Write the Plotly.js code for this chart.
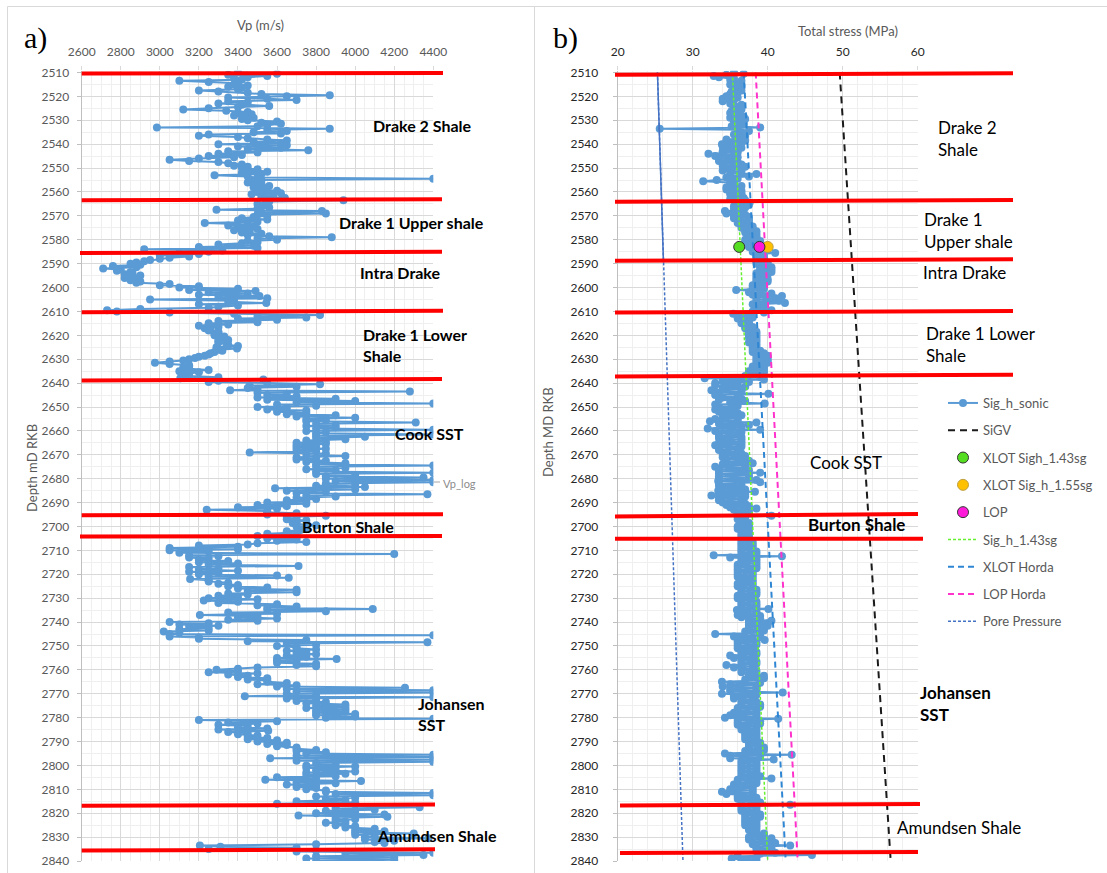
<!DOCTYPE html>
<html>
<head>
<meta charset="utf-8">
<script src="https://cdn.plot.ly/plotly-3.0.1.min.js"></script>
<style>
html,body{margin:0;padding:0;background:#fff;}
#chart{width:1107px;height:873px;}
</style>
</head>
<body>
<div id="chart"></div>
<script>
// ---------------- DATA ----------------
// Log sampling: top depth and step (m MD RKB)
const logTopDepth = 2510;
const logStep = 0.5;

// Vp log (m/s), one value per 0.5 m from 2510 to 2840
const vpLog = [
/*2510*/ 3400,3600,3350,3550,3450,3380,3420,3100,3250,3400,3380,3450,3350,3420,3400,3200,3300,3450,3520,3870,
/*2520*/ 3650,3350,3550,3700,3350,3450,3300,3420,3560,3400,3250,3120,3340,3450,3400,3470,3380,3440,3480,3420,
/*2530*/ 3450,3600,3520,3620,3550,3500,2985,3870,3550,3650,3480,3620,3250,3200,3400,3450,3550,3650,3480,3620,
/*2540*/ 3300,3650,3400,3620,3450,3760,3350,3500,3300,3420,3250,3380,3200,3050,3150,3300,3350,3420,3380,3450,
/*2550*/ 3420,3500,3450,3550,3420,3520,3280,3450,3500,4400,3520,3480,3450,3520,3500,3560,3480,3540,3520,3600,
/*2560*/ 3500,3620,3470,3580,3520,3640,3540,3940,3560,3540,3500,3550,3520,3560,3500,3290,3830,3520,3850,3500,
/*2570*/ 3550,3480,3420,3550,3400,3500,3230,3450,3350,3480,3400,3500,3380,3460,3420,3520,3450,3560,3880,3500,
/*2580*/ 3600,3450,3500,3420,3300,3480,3200,3500,2920,3320,3250,3100,3200,3000,3150,3050,3000,2950,2920,2880,
/*2590*/ 2850,2900,2760,2880,2710,2800,2780,2850,2860,2820,2900,2850,2820,2880,2850,2900,2880,3050,3000,3200,
/*2600*/ 3100,3400,3150,3490,3250,3450,3200,3510,3300,3550,2950,3380,3350,3545,3200,3400,3300,3250,2900,2730,
/*2610*/ 2780,3050,3380,3820,3500,3750,3400,3600,3300,3500,3250,3350,3200,3300,3230,3260,3250,3300,3300,3280,
/*2620*/ 3280,3330,3320,3300,3350,3300,3300,3340,3350,3400,3290,3395,3300,3320,3280,3260,3250,3230,3200,3180,
/*2630*/ 3150,3120,3050,2975,3050,3150,3150,3120,3150,3250,3100,3200,3150,3120,3150,3300,3105,3530,3300,3250,
/*2640*/ 3550,3820,3460,3700,3450,3500,3360,4280,3500,3650,3550,3700,3500,3900,3550,4000,3700,4400,3600,3800,
/*2650*/ 3500,3650,3550,3750,3600,3750,3650,3900,3700,4000,3750,3850,3750,4310,3800,3900,3750,3900,3800,4400,
/*2660*/ 3750,3850,3800,4400,3800,4050,3800,3950,3750,3850,3700,3850,3700,3800,3700,3850,3700,3800,3460,3850,
/*2670*/ 3750,3950,3700,3800,3700,3850,3750,3950,3800,4400,3800,3950,3750,3900,3800,4400,3800,4000,3850,4350,
/*2680*/ 3850,4400,3900,4400,3850,4000,3800,4050,3590,4000,3650,3850,3700,4370,3750,3900,3700,3800,3650,3750,
/*2690*/ 3550,3750,3500,3650,3400,3600,3240,3550,3550,3700,3550,3850,3650,3700,3650,3750,3700,3680,3700,3800,
/*2700*/ 3700,3750,3750,3720,3650,3700,3550,3700,3500,3700,3550,3700,3600,3750,3500,3450,3200,3400,3050,3400,
/*2710*/ 3050,3250,3100,4200,3150,3300,3150,3250,3200,3350,3200,3400,3250,3710,3150,3300,3200,3400,3150,3300,
/*2720*/ 3200,3600,3250,3660,3155,3250,3250,3350,3300,3400,3350,3550,3400,3700,3450,3700,3350,3450,3300,3400,
/*2730*/ 3250,3500,3225,3400,3300,3600,3500,3700,3550,4090,3550,3850,3350,3600,3205,3500,3400,3600,3350,3500,
/*2740*/ 3050,3250,3100,3300,3150,3250,3100,3250,3020,3100,3050,4400,3050,3200,3200,3750,3450,4370,3650,3800,
/*2750*/ 3600,3700,3700,3800,3650,3750,3700,3800,3650,3750,3600,3905,3600,3700,3600,3800,3700,3800,3500,3400,
/*2760*/ 3290,3400,3250,3500,3350,3450,3400,3550,3450,3550,3550,3650,3500,3700,3600,4255,3650,4400,3700,4400,
/*2770*/ 3650,3800,3435,4400,3650,3800,3700,3850,3750,3950,3800,3950,3750,3950,3800,3950,3800,4000,3800,4000,
/*2780*/ 3850,4400,3200,3600,3350,3500,3300,3450,3400,3550,3300,3555,3350,3450,3400,3500,3450,3550,3450,3600,
/*2790*/ 3500,3650,3550,3650,3600,3700,3700,3800,3700,3850,3750,4400,3700,4400,3565,4400,3700,4400,3800,3900,
/*2800*/ 3750,4000,3750,3900,3800,4000,3750,3950,3750,3900,3600,3800,3540,4030,3700,3900,3650,3800,3700,3800,
/*2810*/ 3750,3850,3850,4400,3900,4400,3800,4000,3850,3950,3700,4000,3600,4000,3900,4330,3900,4100,3850,4000,
/*2820*/ 3800,4150,3710,4165,3900,4000,3900,3950,3850,3950,3900,4000,3950,4100,4000,4150,4000,4300,4000,4100,
/*2830*/ 4050,4375,4050,4200,4100,4150,3800,3205,3310,3700,3250,3800,3700,4400,3950,4350,3800,4200,3750,4200,
/*2840*/ 3800
];

// Sig_h_sonic (MPa), one value per 0.5 m from 2510 to 2840
const sigHSonic = [
/*2510*/ 35.5,36.8,34.5,32.8,33.5,35.5,35.0,36.5,35.5,36.2,35.0,36.5,35.5,36.0,35.8,36.5,35.2,36.0,35.0,35.8,
/*2520*/ 34.5,36.0,34.0,35.5,34.0,35.2,35.0,36.5,35.5,36.2,35.5,36.5,35.2,36.0,35.0,36.0,35.5,36.8,35.0,37.0,
/*2530*/ 35.5,36.5,35.5,36.8,36.0,35.2,39.0,25.6,36.0,37.5,36.5,37.0,35.5,37.0,36.0,36.8,34.5,37.0,34.5,36.5,
/*2540*/ 33.9,36.0,34.0,36.5,34.5,36.0,34.0,36.0,32.1,35.5,33.0,36.0,33.5,35.5,33.5,36.0,34.0,36.5,34.0,37.0,
/*2550*/ 34.5,36.5,34.0,36.5,35.0,38.5,35.0,37.5,34.5,36.0,33.2,31.4,35.0,35.5,35.0,36.5,34.5,36.0,34.5,36.5,
/*2560*/ 35.0,36.5,35.0,36.5,35.5,36.8,35.0,37.0,36.0,37.6,36.0,37.5,35.5,37.0,35.5,36.5,34.3,36.5,34.5,37.0,
/*2570*/ 35.5,37.5,35.5,37.5,36.0,37.5,36.0,37.5,36.5,38.0,36.5,38.0,37.0,38.5,37.0,38.5,37.5,38.5,37.5,38.5,
/*2580*/ 37.0,39.0,37.0,39.0,37.5,39.5,37.5,39.5,38.0,39.5,38.0,41.0,38.5,39.5,38.5,39.5,38.5,39.5,38.5,40.0,
/*2590*/ 38.5,40.0,39.0,40.5,39.0,40.5,39.0,40.5,38.5,40.0,38.5,39.5,38.5,40.0,38.5,40.0,38.5,39.5,38.0,39.5,
/*2600*/ 38.0,39.5,35.8,39.0,37.5,40.5,38.0,41.9,38.5,41.0,38.5,41.5,38.5,42.3,38.0,39.5,38.5,39.5,38.5,40.5,
/*2610*/ 38.0,39.5,35.4,37.5,36.0,38.0,36.0,37.5,36.5,37.5,36.5,37.5,37.0,38.0,37.0,38.0,37.5,38.5,37.5,38.5,
/*2620*/ 37.5,38.5,37.5,38.5,37.8,38.5,37.5,38.5,38.0,38.5,38.0,38.5,38.0,39.0,38.0,39.5,38.5,40.0,38.5,40.0,
/*2630*/ 38.5,40.0,38.5,40.0,38.5,39.5,38.0,39.5,38.0,39.5,37.5,39.5,37.5,39.0,37.0,39.0,31.6,39.5,34.0,37.5,
/*2640*/ 33.0,36.0,33.0,37.0,34.0,36.5,32.5,36.5,33.5,40.1,33.0,36.0,34.0,36.5,33.5,37.0,35.0,39.6,33.0,36.0,
/*2650*/ 33.5,35.5,33.0,35.5,33.5,36.0,34.0,36.5,34.0,36.0,33.0,36.0,32.3,38.5,33.5,37.5,34.0,36.5,32.0,39.0,
/*2660*/ 33.0,36.5,33.5,36.0,33.5,36.5,33.5,36.5,34.0,36.5,33.5,36.5,33.0,36.5,33.5,36.0,33.5,36.0,34.0,36.5,
/*2670*/ 34.0,37.0,34.0,37.0,34.5,37.5,34.5,38.0,34.0,37.0,33.0,37.0,33.5,37.5,33.5,39.0,33.5,37.5,33.5,37.5,
/*2680*/ 33.5,38.5,33.4,39.0,33.5,36.5,33.5,36.5,34.0,37.0,33.4,38.3,33.5,37.0,32.5,37.0,33.5,36.5,33.5,36.5,
/*2690*/ 34.0,37.0,34.5,37.5,35.0,38.5,35.5,37.5,36.0,37.5,36.0,40.5,36.0,37.0,36.0,37.0,36.5,37.5,36.5,37.5,
/*2700*/ 36.0,37.5,36.0,37.5,36.5,37.5,36.5,37.5,36.5,37.5,36.5,37.5,36.5,38.0,36.5,38.0,36.5,38.0,36.5,38.0,
/*2710*/ 36.5,38.5,36.5,38.5,32.8,41.9,35.0,38.5,36.5,38.5,36.5,38.5,36.0,38.5,36.0,38.5,36.0,38.0,36.0,38.0,
/*2720*/ 36.0,38.0,36.0,38.0,36.5,38.0,36.5,38.0,36.0,38.0,36.0,38.0,36.5,38.5,36.5,38.5,36.5,38.5,36.0,38.0,
/*2730*/ 36.0,38.0,36.5,38.5,36.5,38.5,36.5,38.5,36.5,40.1,35.9,38.5,36.5,38.5,36.0,39.0,36.5,39.0,37.5,40.5,
/*2740*/ 37.5,40.0,37.5,40.0,37.5,39.5,37.5,39.5,37.0,39.0,33.0,39.0,35.5,38.0,36.0,39.6,36.0,38.5,36.0,38.5,
/*2750*/ 36.0,38.0,36.0,38.0,36.5,38.5,36.5,38.5,35.0,38.0,35.5,38.0,36.5,38.5,36.5,38.5,34.5,38.0,35.5,38.0,
/*2760*/ 36.5,38.5,36.5,38.5,37.5,39.5,37.5,39.5,37.0,39.0,33.9,39.0,35.0,38.5,34.0,38.5,35.0,38.5,35.0,42.0,
/*2770*/ 33.9,38.5,35.5,38.0,35.5,38.0,36.5,38.5,36.5,39.0,36.5,39.0,36.0,38.5,36.0,38.5,35.5,38.5,35.0,38.5,
/*2780*/ 34.3,41.4,36.0,39.0,36.0,39.0,36.0,38.5,36.5,38.5,36.5,38.5,37.0,38.5,37.0,38.5,37.0,38.5,37.0,38.5,
/*2790*/ 37.5,39.0,37.5,39.0,37.5,39.5,37.5,39.5,37.0,39.0,34.3,43.2,35.0,39.0,35.0,40.8,36.5,38.5,36.5,38.5,
/*2800*/ 36.5,38.5,36.5,38.5,36.5,38.5,36.5,38.5,36.5,39.0,36.5,40.5,36.0,38.5,36.0,38.5,35.5,38.0,35.5,38.0,
/*2810*/ 35.0,38.0,33.9,38.0,34.5,38.0,36.0,38.5,36.0,38.5,36.5,39.0,36.5,43.0,36.5,38.5,36.5,38.5,36.5,38.5,
/*2820*/ 37.0,39.0,37.0,39.0,37.0,38.5,37.0,38.5,37.0,38.5,37.0,38.5,37.5,38.5,37.5,38.5,38.0,39.5,38.0,39.5,
/*2830*/ 37.5,40.5,37.5,40.5,38.0,41.0,38.0,43.0,38.5,40.5,38.5,40.5,39.0,41.0,39.0,45.9,36.0,38.5,35.2,38.5,
/*2840*/ 36.5
];

// Stress trend lines (MPa) at top and base depth
const trendDepth = [2510, 2840];
const sigV = [49.6, 56.4];
const sigH143 = [35.3, 40.0];
const xlotHorda = [36.8, 42.4];
const lopHorda = [38.4, 44.0];
const porePressure = [25.3, 28.7];
const poreUpperDepth = [2510, 2589];
const poreUpper = [25.3, 26.1];

// Test points (MPa)
const testDepth = [2583];
const xlotSigh143 = [36.2];
const xlotSigh155 = [40.0];
const lopPoint = [38.9];

// Formation boundaries (depth at left end, depth at right end)
const leftTopsA = [2510.4, 2563.5, 2585.6, 2610.3, 2638.9, 2695.3, 2704.2, 2816.9, 2835.6];
const leftTopsB = [2510.2, 2563.1, 2585.0, 2609.7, 2638.3, 2694.9, 2704.0, 2816.4, 2835.1];
const rightTopsA = [2511.0, 2564.1, 2588.8, 2610.5, 2637.2, 2695.8, 2705.1, 2816.8, 2836.6];
const rightTopsB = [2510.3, 2563.4, 2588.2, 2609.8, 2636.5, 2694.8, 2705.1, 2816.1, 2836.2];

// Formation labels
const leftLabels = ['Drake 2 Shale', 'Drake 1 Upper shale', 'Intra Drake', 'Drake 1 Lower<br>Shale',
  'Cook SST', 'Burton Shale', 'Johansen<br>SST', 'Amundsen Shale'];
const rightLabels = ['Drake 2<br>Shale', 'Drake 1<br>Upper shale', 'Intra Drake', 'Drake 1 Lower<br>Shale',
  'Cook SST', 'Burton Shale', 'Johansen<br>SST', 'Amundsen Shale'];

// ---------------- LAYOUT HELPERS ----------------
const W = 1107, H = 873;
const px = v => v / W;
const py = v => 1 - v / H;
const FONT = 'Lato, "Open Sans", "DejaVu Sans", sans-serif';
const GRAY = '#595959';
const BLUE = '#5B9BD5';

const logDepth = vpLog.map((_, i) => logTopDepth + i * logStep);

const yDomain = [py(861), py(70.8)];
const yRange = [2840, 2509.3];

// label placement (pixels)
const leftLabelPos = [[371,126],[337,222],[358,272],[361,345],[393,433],[300,526],[416,714],[375,835]];
const rightLabelPos = [[936,138],[922,231],[921,272],[924,345],[808,462],[806,524],[918,703],[895,827]];
const rightLabelBold = [false,false,false,false,false,true,true,false];

// line extents (pixels)
const leftLineX = [[81.7,443],[81.7,442],[80,442],[81.7,443],[81.7,442],[81.7,443],[80,442],[81.7,435],[81.7,435]];
const rightLineX = [[615,1013],[615,1013],[615,1013],[615,1013],[615,1013],[615,918],[615,923],[620,920],[620,918]];

// ---------------- TRACES ----------------
const traces = [
  {type:'scatter', mode:'lines+markers', name:'Vp_log', x: vpLog, y: logDepth,
   xaxis:'x', yaxis:'y', line:{color:BLUE, width:2}, marker:{color:BLUE, size:8}, showlegend:false},
  {type:'scatter', mode:'lines+markers', name:'Sig_h_sonic', x: sigHSonic, y: logDepth,
   xaxis:'x2', yaxis:'y2', line:{color:BLUE, width:2}, marker:{color:BLUE, size:8},
   legendgroup:'g1', legendrank:1},
  {type:'scatter', mode:'lines', name:'Pore Pressure', x: poreUpper, y: poreUpperDepth,
   xaxis:'x2', yaxis:'y2', line:{color:'#4472C4', width:1.5}, showlegend:false},
  {type:'scatter', mode:'lines', name:'Pore Pressure', x: porePressure, y: trendDepth,
   xaxis:'x2', yaxis:'y2', line:{color:'#4472C4', width:1.5, dash:'3px,2px'}, legendgroup:'g9', legendrank:9},
  {type:'scatter', mode:'lines', name:'SiGV', x: sigV, y: trendDepth,
   xaxis:'x2', yaxis:'y2', line:{color:'#1a1a1a', width:2, dash:'7px,5px'}, legendgroup:'g2', legendrank:2},
  {type:'scatter', mode:'lines', name:'Sig_h_1.43sg', x: sigH143, y: trendDepth,
   xaxis:'x2', yaxis:'y2', line:{color:'#66F02E', width:1.5, dash:'3px,2px'}, legendgroup:'g6', legendrank:6},
  {type:'scatter', mode:'lines', name:'XLOT Horda', x: xlotHorda, y: trendDepth,
   xaxis:'x2', yaxis:'y2', line:{color:'#2F86D3', width:2, dash:'6px,4px'}, legendgroup:'g7', legendrank:7},
  {type:'scatter', mode:'lines', name:'LOP Horda', x: lopHorda, y: trendDepth,
   xaxis:'x2', yaxis:'y2', line:{color:'#FF33CC', width:2, dash:'6px,4px'}, legendgroup:'g8', legendrank:8},
  {type:'scatter', mode:'markers', name:'XLOT Sigh_1.43sg', x: xlotSigh143, y: testDepth,
   xaxis:'x2', yaxis:'y2', marker:{color:'#55DD22', size:11, line:{color:'#333333', width:1}}, legendgroup:'g3', legendrank:3},
  {type:'scatter', mode:'markers', name:'XLOT Sig_h_1.55sg', x: xlotSigh155, y: testDepth,
   xaxis:'x2', yaxis:'y2', marker:{color:'#FFC000', size:11, line:{color:'#BFA040', width:1}}, legendgroup:'g4', legendrank:4},
  {type:'scatter', mode:'markers', name:'LOP', x: lopPoint, y: testDepth,
   xaxis:'x2', yaxis:'y2', marker:{color:'#FF1AD9', size:11, line:{color:'#333333', width:1}}, legendgroup:'g5', legendrank:5}
];

// ---------------- SHAPES ----------------
const shapes = [];
leftTopsA.forEach((d, i) => {
  shapes.push({type:'line', xref:'paper', yref:'y', x0:px(leftLineX[i][0]), x1:px(leftLineX[i][1]),
    y0:d, y1:leftTopsB[i], line:{color:'#FF0000', width:4}, layer:'above'});
});
rightTopsA.forEach((d, i) => {
  shapes.push({type:'line', xref:'paper', yref:'y2', x0:px(rightLineX[i][0]), x1:px(rightLineX[i][1]),
    y0:d, y1:rightTopsB[i], line:{color:'#FF0000', width:4}, layer:'above'});
});
// chart frames
const frameColor = '#D9D9D9';
shapes.push({type:'line', xref:'paper', yref:'paper', x0:px(7.5), x1:px(7.5), y0:py(6.5), y1:0, line:{color:frameColor, width:1}});
shapes.push({type:'line', xref:'paper', yref:'paper', x0:px(7.5), x1:1, y0:py(6.5), y1:py(6.5), line:{color:frameColor, width:1}});
shapes.push({type:'line', xref:'paper', yref:'paper', x0:px(534.5), x1:px(534.5), y0:py(6.5), y1:0, line:{color:frameColor, width:1}});
// Vp_log leader
shapes.push({type:'line', xref:'paper', yref:'paper', x0:px(434), x1:px(440), y0:py(482), y1:py(482), line:{color:'#A6A6A6', width:1}});

// ---------------- ANNOTATIONS ----------------
const ann = [];
const addText = (text, x, y, opts) => ann.push(Object.assign({
  text, xref:'paper', yref:'paper', x:px(x), y:py(y), showarrow:false,
  xanchor:'left', yanchor:'middle', align:'left',
  font:{family:FONT, size:16, color:'#000'}
}, opts || {}));

leftLabels.forEach((t, i) => addText('<b>' + t + '</b>', leftLabelPos[i][0], leftLabelPos[i][1],
  {font:{family:FONT, size:16, color:'#000'}}));
rightLabels.forEach((t, i) => addText(rightLabelBold[i] ? '<b>' + t + '</b>' : t, rightLabelPos[i][0], rightLabelPos[i][1],
  {font:{family:FONT, size:17, color:'#000'}}));

addText('Vp (m/s)', 260, 25, {xanchor:'center', font:{family:FONT, size:13, color:GRAY}});
addText('Total stress (MPa)', 848, 31, {xanchor:'center', font:{family:FONT, size:13, color:GRAY}});
addText('Depth mD RKB', 32, 468, {xanchor:'center', textangle:-90, font:{family:FONT, size:13, color:GRAY}});
addText('Depth MD RKB', 548, 432, {xanchor:'center', textangle:-90, font:{family:FONT, size:13, color:GRAY}});
addText('a)', 35, 38, {xanchor:'center', font:{family:'"Liberation Serif", "DejaVu Serif", serif', size:30, color:'#000'}});
addText('b)', 565, 38, {xanchor:'center', font:{family:'"Liberation Serif", "DejaVu Serif", serif', size:30, color:'#000'}});
addText('Vp_log', 441, 483, {font:{family:FONT, size:11, color:'#8C8C8C'}});

// ---------------- AXES ----------------
const baseX = {
  side:'top', ticks:'outside', ticklen:4, tickcolor:'#D9D9D9', showgrid:true, gridcolor:'#D9D9D9', gridwidth:1,
  zeroline:false, showline:false, ticklabelstandoff:5, fixedrange:true
};
const baseY = {
  domain:yDomain, range:yRange, dtick:10, tick0:2510, ticks:'outside', ticklen:4, tickcolor:'#BFBFBF',
  showline:true, linecolor:'#BFBFBF', linewidth:1, showgrid:true, gridcolor:'#D9D9D9', gridwidth:1,
  minor:{dtick:5, showgrid:true, gridcolor:'#EFEFEF', gridwidth:1},
  zeroline:false, fixedrange:true
};

const layout = {
  width:W, height:H,
  margin:{l:0, r:0, t:0, b:0, autoexpand:false},
  paper_bgcolor:'#ffffff', plot_bgcolor:'#ffffff',
  font:{family:FONT, size:12, color:GRAY},
  hovermode:false,
  showlegend:true,
  legend:{x:px(943), y:py(388), xanchor:'left', yanchor:'top', traceorder:'grouped',
    tracegroupgap:7.4, font:{family:FONT, size:13, color:GRAY}, bgcolor:'rgba(255,255,255,0)', itemwidth:30},
  xaxis:Object.assign({}, baseX, {
    domain:[px(81.7), px(433.3)], range:[2600, 4400], anchor:'y', tick0:2600, dtick:200,
    minor:{dtick:50, showgrid:true, gridcolor:'#EFEFEF', gridwidth:1},
    tickfont:{family:FONT, size:12, color:GRAY}
  }),
  yaxis:Object.assign({}, baseY, {
    anchor:'x', ticklabelstandoff:5, tickfont:{family:FONT, size:12, color:GRAY}
  }),
  xaxis2:Object.assign({}, baseX, {
    domain:[px(617.7), px(917.7)], range:[20, 60], anchor:'y2', tick0:20, dtick:10,
    minor:{dtick:2, showgrid:true, gridcolor:'#EFEFEF', gridwidth:1},
    tickfont:{family:FONT, size:12, color:'#262626'}
  }),
  yaxis2:Object.assign({}, baseY, {
    anchor:'x2', ticklabelstandoff:12, tickfont:{family:FONT, size:12, color:'#262626'}
  }),
  shapes:shapes,
  annotations:ann
};

Plotly.newPlot('chart', traces, layout, {displayModeBar:false, staticPlot:true});
</script>
</body>
</html>
